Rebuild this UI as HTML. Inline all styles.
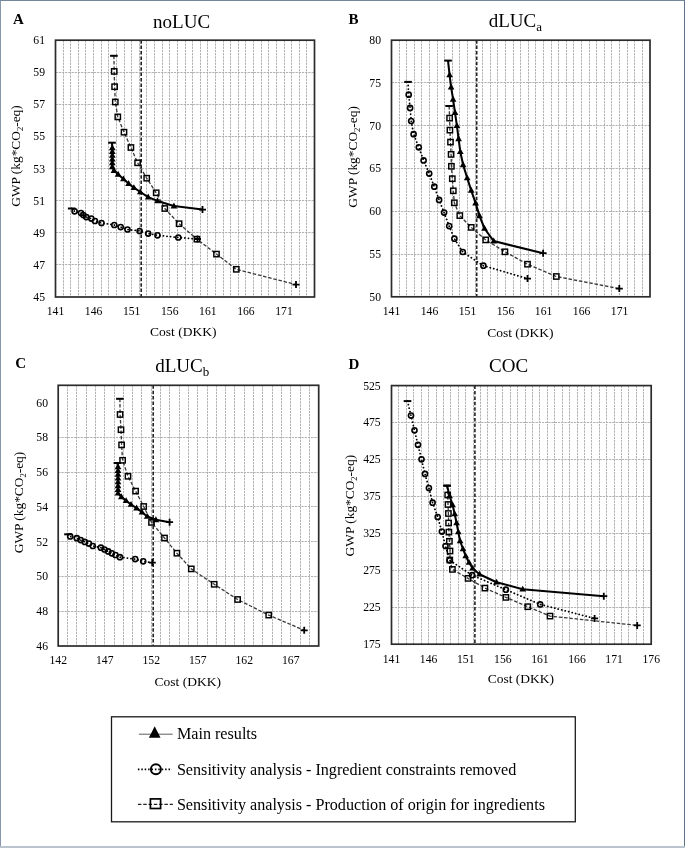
<!DOCTYPE html>
<html><head><meta charset="utf-8"><title>Figure</title>
<style>
html,body{margin:0;padding:0;background:#fff;}
body{width:685px;height:848px;overflow:hidden;}
svg{display:block;will-change:transform;}
text{font-family:"Liberation Serif", serif;fill:#000;}
.t{font-size:11.7px;}
.at{font-size:13.5px;}
.yt{font-size:13.4px;}
.lt{font-size:15px;font-weight:bold;}
.tt{font-size:19px;}
.lg{font-size:16.15px;}
</style></head>
<body>
<svg width="685" height="848" viewBox="0 0 685 848">
<rect x="0.5" y="0.5" width="684" height="847" fill="#fff" stroke="none"/>
<path d="M63.5 40.2V297M70.5 40.2V297M78.5 40.2V297M85.5 40.2V297M93.5 40.2V297M101.5 40.2V297M108.5 40.2V297M116.5 40.2V297M124.5 40.2V297M131.5 40.2V297M139.5 40.2V297M146.5 40.2V297M154.5 40.2V297M162.5 40.2V297M169.5 40.2V297M177.5 40.2V297M185.5 40.2V297M192.5 40.2V297M200.5 40.2V297M207.5 40.2V297M215.5 40.2V297M223.5 40.2V297M230.5 40.2V297M238.5 40.2V297M245.5 40.2V297M253.5 40.2V297M261.5 40.2V297M268.5 40.2V297M276.5 40.2V297M284.5 40.2V297M291.5 40.2V297M299.5 40.2V297M306.5 40.2V297M55.5 264.5H314.5M55.5 232.5H314.5M55.5 200.5H314.5M55.5 168.5H314.5M55.5 136.5H314.5M55.5 104.5H314.5M55.5 72.5H314.5" stroke="#b2b2b2" stroke-width="1" stroke-dasharray="2.3 0.9" fill="none"/>
<path d="M141.2 40.2V297" stroke="#222" stroke-width="1.6" stroke-dasharray="3.5 1.9" fill="none"/>
<polyline points="113.9,55.8 114.2,71.4 114.6,86.7 115.3,102 117.8,116.9 124,132.2 130.9,147.5 137.6,162.8 146.7,178.2 156.2,192.8 164.8,208.5 179.1,223.7 196.9,239.2 216.5,254.1 236.3,269.3 296,284.6" stroke="#383838" stroke-width="1.3" stroke-dasharray="3.5 1.8" fill="none"/>
<polyline points="71.7,208.5 74.6,211.3 81,213.1 83.4,215.1 86.3,217.1 91.3,218.6 95,221 101.5,223 114.3,225 120.7,227.1 127.5,229.5 139.6,231 148.2,233.6 157.5,235.3 178.3,237.5 197.5,239" stroke="#000" stroke-width="1.8" stroke-dasharray="0.1 3.5" stroke-linecap="round" fill="none"/>
<polyline points="112,142.7 112.3,147.8 112.3,151.6 112.3,155.4 112.3,159.2 112.3,163 112.3,166.8 114,170.6 118.1,174.3 123.4,179 128.6,183.6 133.9,187.7 140.3,192 148.2,197.1 157.5,200.9 173.9,206.1 202.5,209.6" stroke="#000" stroke-width="2.05" stroke-linejoin="round" fill="none"/>
<rect x="110.1" y="54.8" width="7.6" height="2" fill="#000"/>
<rect x="111.55" y="68.75" width="5.3" height="5.3" fill="none" stroke="#000" stroke-width="1.45"/>
<rect x="111.95" y="84.05" width="5.3" height="5.3" fill="none" stroke="#000" stroke-width="1.45"/>
<rect x="112.65" y="99.35" width="5.3" height="5.3" fill="none" stroke="#000" stroke-width="1.45"/>
<rect x="115.15" y="114.25" width="5.3" height="5.3" fill="none" stroke="#000" stroke-width="1.45"/>
<rect x="121.35" y="129.55" width="5.3" height="5.3" fill="none" stroke="#000" stroke-width="1.45"/>
<rect x="128.25" y="144.85" width="5.3" height="5.3" fill="none" stroke="#000" stroke-width="1.45"/>
<rect x="134.95" y="160.15" width="5.3" height="5.3" fill="none" stroke="#000" stroke-width="1.45"/>
<rect x="144.05" y="175.55" width="5.3" height="5.3" fill="none" stroke="#000" stroke-width="1.45"/>
<rect x="153.55" y="190.15" width="5.3" height="5.3" fill="none" stroke="#000" stroke-width="1.45"/>
<rect x="162.15" y="205.85" width="5.3" height="5.3" fill="none" stroke="#000" stroke-width="1.45"/>
<rect x="176.45" y="221.05" width="5.3" height="5.3" fill="none" stroke="#000" stroke-width="1.45"/>
<rect x="194.25" y="236.55" width="5.3" height="5.3" fill="none" stroke="#000" stroke-width="1.45"/>
<rect x="213.85" y="251.45" width="5.3" height="5.3" fill="none" stroke="#000" stroke-width="1.45"/>
<rect x="233.65" y="266.65" width="5.3" height="5.3" fill="none" stroke="#000" stroke-width="1.45"/>
<path d="M292.5 284.6H299.5M296 281.1V288.1" stroke="#000" stroke-width="1.8" fill="none"/>
<rect x="67.9" y="207.5" width="7.6" height="2" fill="#000"/>
<circle cx="74.6" cy="211.3" r="2.55" fill="none" stroke="#000" stroke-width="1.6"/>
<circle cx="81" cy="213.1" r="2.55" fill="none" stroke="#000" stroke-width="1.6"/>
<circle cx="83.4" cy="215.1" r="2.55" fill="none" stroke="#000" stroke-width="1.6"/>
<circle cx="86.3" cy="217.1" r="2.55" fill="none" stroke="#000" stroke-width="1.6"/>
<circle cx="91.3" cy="218.6" r="2.55" fill="none" stroke="#000" stroke-width="1.6"/>
<circle cx="95" cy="221" r="2.55" fill="none" stroke="#000" stroke-width="1.6"/>
<circle cx="101.5" cy="223" r="2.55" fill="none" stroke="#000" stroke-width="1.6"/>
<circle cx="114.3" cy="225" r="2.55" fill="none" stroke="#000" stroke-width="1.6"/>
<circle cx="120.7" cy="227.1" r="2.55" fill="none" stroke="#000" stroke-width="1.6"/>
<circle cx="127.5" cy="229.5" r="2.55" fill="none" stroke="#000" stroke-width="1.6"/>
<circle cx="139.6" cy="231" r="2.55" fill="none" stroke="#000" stroke-width="1.6"/>
<circle cx="148.2" cy="233.6" r="2.55" fill="none" stroke="#000" stroke-width="1.6"/>
<circle cx="157.5" cy="235.3" r="2.55" fill="none" stroke="#000" stroke-width="1.6"/>
<circle cx="178.3" cy="237.5" r="2.55" fill="none" stroke="#000" stroke-width="1.6"/>
<path d="M194 239H201M197.5 235.5V242.5" stroke="#000" stroke-width="1.8" fill="none"/>
<rect x="108.2" y="141.7" width="7.6" height="2" fill="#000"/>
<path d="M112.3 144.26L115.65 150.16L108.95 150.16Z" fill="#000"/>
<path d="M112.3 148.06L115.65 153.96L108.95 153.96Z" fill="#000"/>
<path d="M112.3 151.86L115.65 157.76L108.95 157.76Z" fill="#000"/>
<path d="M112.3 155.66L115.65 161.56L108.95 161.56Z" fill="#000"/>
<path d="M112.3 159.46L115.65 165.36L108.95 165.36Z" fill="#000"/>
<path d="M112.3 163.26L115.65 169.16L108.95 169.16Z" fill="#000"/>
<path d="M114 167.06L117.35 172.96L110.65 172.96Z" fill="#000"/>
<path d="M118.1 170.76L121.45 176.66L114.75 176.66Z" fill="#000"/>
<path d="M123.4 175.46L126.75 181.36L120.05 181.36Z" fill="#000"/>
<path d="M128.6 180.06L131.95 185.96L125.25 185.96Z" fill="#000"/>
<path d="M133.9 184.16L137.25 190.06L130.55 190.06Z" fill="#000"/>
<path d="M140.3 188.46L143.65 194.36L136.95 194.36Z" fill="#000"/>
<path d="M148.2 193.56L151.55 199.46L144.85 199.46Z" fill="#000"/>
<path d="M157.5 197.36L160.85 203.26L154.15 203.26Z" fill="#000"/>
<path d="M173.9 202.56L177.25 208.46L170.55 208.46Z" fill="#000"/>
<path d="M199 209.6H206M202.5 206.1V213.1" stroke="#000" stroke-width="1.8" fill="none"/>
<rect x="55.5" y="40.2" width="259" height="256.8" fill="none" stroke="#2b2b2b" stroke-width="1.7"/>
<text transform="translate(55.5,315) scale(1,1.07)" text-anchor="middle" class="t">141</text>
<text transform="translate(93.59,315) scale(1,1.07)" text-anchor="middle" class="t">146</text>
<text transform="translate(131.68,315) scale(1,1.07)" text-anchor="middle" class="t">151</text>
<text transform="translate(169.76,315) scale(1,1.07)" text-anchor="middle" class="t">156</text>
<text transform="translate(207.85,315) scale(1,1.07)" text-anchor="middle" class="t">161</text>
<text transform="translate(245.94,315) scale(1,1.07)" text-anchor="middle" class="t">166</text>
<text transform="translate(284.03,315) scale(1,1.07)" text-anchor="middle" class="t">171</text>
<text transform="translate(45,300.95) scale(1,1.07)" text-anchor="end" class="t">45</text>
<text transform="translate(45,268.85) scale(1,1.07)" text-anchor="end" class="t">47</text>
<text transform="translate(45,236.75) scale(1,1.07)" text-anchor="end" class="t">49</text>
<text transform="translate(45,204.65) scale(1,1.07)" text-anchor="end" class="t">51</text>
<text transform="translate(45,172.55) scale(1,1.07)" text-anchor="end" class="t">53</text>
<text transform="translate(45,140.45) scale(1,1.07)" text-anchor="end" class="t">55</text>
<text transform="translate(45,108.35) scale(1,1.07)" text-anchor="end" class="t">57</text>
<text transform="translate(45,76.25) scale(1,1.07)" text-anchor="end" class="t">59</text>
<text transform="translate(45,44.15) scale(1,1.07)" text-anchor="end" class="t">61</text>
<text x="150.1" y="336.4" class="at">Cost (DKK)</text>
<text transform="translate(20.4,156) rotate(-90)" text-anchor="middle" class="yt">GWP (kg*CO<tspan font-size="8.5" dy="3">2</tspan><tspan dy="-3">-eq)</tspan></text>
<text x="13" y="23.6" class="lt">A</text>
<text x="153.1" y="27.6" class="tt">noLUC</text>
<path d="M399.5 40.2V296.8M406.5 40.2V296.8M414.5 40.2V296.8M421.5 40.2V296.8M429.5 40.2V296.8M437.5 40.2V296.8M444.5 40.2V296.8M452.5 40.2V296.8M459.5 40.2V296.8M467.5 40.2V296.8M475.5 40.2V296.8M482.5 40.2V296.8M490.5 40.2V296.8M497.5 40.2V296.8M505.5 40.2V296.8M513.5 40.2V296.8M520.5 40.2V296.8M528.5 40.2V296.8M535.5 40.2V296.8M543.5 40.2V296.8M551.5 40.2V296.8M558.5 40.2V296.8M566.5 40.2V296.8M573.5 40.2V296.8M581.5 40.2V296.8M589.5 40.2V296.8M596.5 40.2V296.8M604.5 40.2V296.8M611.5 40.2V296.8M619.5 40.2V296.8M627.5 40.2V296.8M634.5 40.2V296.8M642.5 40.2V296.8M391.5 254.5H650M391.5 211.5H650M391.5 168.5H650M391.5 125.5H650M391.5 82.5H650" stroke="#b2b2b2" stroke-width="1" stroke-dasharray="2.3 0.9" fill="none"/>
<path d="M476.7 40.2V296.8" stroke="#222" stroke-width="1.6" stroke-dasharray="3.5 1.9" fill="none"/>
<polyline points="449.1,106 449.6,118.1 449.9,130.1 450.5,142.1 451.1,154.4 451.4,166.3 452.3,178.7 453.3,190.8 454.3,202.8 459.8,215.6 471.2,227.4 485.7,239.9 504.9,251.8 527.5,264.2 556.3,276.5 619.3,288.6" stroke="#383838" stroke-width="1.3" stroke-dasharray="3.5 1.8" fill="none"/>
<polyline points="408,81.9 408.7,94.7 410.1,107.9 411.2,121 413.6,134.2 418.8,147.3 423.6,160.4 429.2,173.6 434.3,186.7 439.1,199.9 444.1,212.6 449.2,226.1 454.4,238.7 462.8,252 483.4,265.7 527.5,278.6" stroke="#000" stroke-width="1.8" stroke-dasharray="0.1 3.5" stroke-linecap="round" fill="none"/>
<polyline points="448,60.6 449.6,75 451.1,87.2 453.1,99.4 455,112.6 456.9,125.7 458.6,138.8 460.3,151.7 463.1,164.8 467.2,178 471.2,190.4 475.6,203.1 479.5,215.9 484.5,228.5 493.7,241.1 543.1,253.2" stroke="#000" stroke-width="2.05" stroke-linejoin="round" fill="none"/>
<rect x="445.3" y="105" width="7.6" height="2" fill="#000"/>
<rect x="446.95" y="115.45" width="5.3" height="5.3" fill="none" stroke="#000" stroke-width="1.45"/>
<rect x="447.25" y="127.45" width="5.3" height="5.3" fill="none" stroke="#000" stroke-width="1.45"/>
<rect x="447.85" y="139.45" width="5.3" height="5.3" fill="none" stroke="#000" stroke-width="1.45"/>
<rect x="448.45" y="151.75" width="5.3" height="5.3" fill="none" stroke="#000" stroke-width="1.45"/>
<rect x="448.75" y="163.65" width="5.3" height="5.3" fill="none" stroke="#000" stroke-width="1.45"/>
<rect x="449.65" y="176.05" width="5.3" height="5.3" fill="none" stroke="#000" stroke-width="1.45"/>
<rect x="450.65" y="188.15" width="5.3" height="5.3" fill="none" stroke="#000" stroke-width="1.45"/>
<rect x="451.65" y="200.15" width="5.3" height="5.3" fill="none" stroke="#000" stroke-width="1.45"/>
<rect x="457.15" y="212.95" width="5.3" height="5.3" fill="none" stroke="#000" stroke-width="1.45"/>
<rect x="468.55" y="224.75" width="5.3" height="5.3" fill="none" stroke="#000" stroke-width="1.45"/>
<rect x="483.05" y="237.25" width="5.3" height="5.3" fill="none" stroke="#000" stroke-width="1.45"/>
<rect x="502.25" y="249.15" width="5.3" height="5.3" fill="none" stroke="#000" stroke-width="1.45"/>
<rect x="524.85" y="261.55" width="5.3" height="5.3" fill="none" stroke="#000" stroke-width="1.45"/>
<rect x="553.65" y="273.85" width="5.3" height="5.3" fill="none" stroke="#000" stroke-width="1.45"/>
<path d="M615.8 288.6H622.8M619.3 285.1V292.1" stroke="#000" stroke-width="1.8" fill="none"/>
<rect x="404.2" y="80.9" width="7.6" height="2" fill="#000"/>
<circle cx="408.7" cy="94.7" r="2.55" fill="none" stroke="#000" stroke-width="1.6"/>
<circle cx="410.1" cy="107.9" r="2.55" fill="none" stroke="#000" stroke-width="1.6"/>
<circle cx="411.2" cy="121" r="2.55" fill="none" stroke="#000" stroke-width="1.6"/>
<circle cx="413.6" cy="134.2" r="2.55" fill="none" stroke="#000" stroke-width="1.6"/>
<circle cx="418.8" cy="147.3" r="2.55" fill="none" stroke="#000" stroke-width="1.6"/>
<circle cx="423.6" cy="160.4" r="2.55" fill="none" stroke="#000" stroke-width="1.6"/>
<circle cx="429.2" cy="173.6" r="2.55" fill="none" stroke="#000" stroke-width="1.6"/>
<circle cx="434.3" cy="186.7" r="2.55" fill="none" stroke="#000" stroke-width="1.6"/>
<circle cx="439.1" cy="199.9" r="2.55" fill="none" stroke="#000" stroke-width="1.6"/>
<circle cx="444.1" cy="212.6" r="2.55" fill="none" stroke="#000" stroke-width="1.6"/>
<circle cx="449.2" cy="226.1" r="2.55" fill="none" stroke="#000" stroke-width="1.6"/>
<circle cx="454.4" cy="238.7" r="2.55" fill="none" stroke="#000" stroke-width="1.6"/>
<circle cx="462.8" cy="252" r="2.55" fill="none" stroke="#000" stroke-width="1.6"/>
<circle cx="483.4" cy="265.7" r="2.55" fill="none" stroke="#000" stroke-width="1.6"/>
<path d="M524 278.6H531M527.5 275.1V282.1" stroke="#000" stroke-width="1.8" fill="none"/>
<rect x="444.2" y="59.6" width="7.6" height="2" fill="#000"/>
<path d="M449.6 71.46L452.95 77.36L446.25 77.36Z" fill="#000"/>
<path d="M451.1 83.66L454.45 89.56L447.75 89.56Z" fill="#000"/>
<path d="M453.1 95.86L456.45 101.76L449.75 101.76Z" fill="#000"/>
<path d="M455 109.06L458.35 114.96L451.65 114.96Z" fill="#000"/>
<path d="M456.9 122.16L460.25 128.06L453.55 128.06Z" fill="#000"/>
<path d="M458.6 135.26L461.95 141.16L455.25 141.16Z" fill="#000"/>
<path d="M460.3 148.16L463.65 154.06L456.95 154.06Z" fill="#000"/>
<path d="M463.1 161.26L466.45 167.16L459.75 167.16Z" fill="#000"/>
<path d="M467.2 174.46L470.55 180.36L463.85 180.36Z" fill="#000"/>
<path d="M471.2 186.86L474.55 192.76L467.85 192.76Z" fill="#000"/>
<path d="M475.6 199.56L478.95 205.46L472.25 205.46Z" fill="#000"/>
<path d="M479.5 212.36L482.85 218.26L476.15 218.26Z" fill="#000"/>
<path d="M484.5 224.96L487.85 230.86L481.15 230.86Z" fill="#000"/>
<path d="M493.7 237.56L497.05 243.46L490.35 243.46Z" fill="#000"/>
<path d="M539.6 253.2H546.6M543.1 249.7V256.7" stroke="#000" stroke-width="1.8" fill="none"/>
<rect x="391.5" y="40.2" width="258.5" height="256.6" fill="none" stroke="#2b2b2b" stroke-width="1.7"/>
<text transform="translate(391.5,314.8) scale(1,1.07)" text-anchor="middle" class="t">141</text>
<text transform="translate(429.51,314.8) scale(1,1.07)" text-anchor="middle" class="t">146</text>
<text transform="translate(467.53,314.8) scale(1,1.07)" text-anchor="middle" class="t">151</text>
<text transform="translate(505.54,314.8) scale(1,1.07)" text-anchor="middle" class="t">156</text>
<text transform="translate(543.56,314.8) scale(1,1.07)" text-anchor="middle" class="t">161</text>
<text transform="translate(581.57,314.8) scale(1,1.07)" text-anchor="middle" class="t">166</text>
<text transform="translate(619.59,314.8) scale(1,1.07)" text-anchor="middle" class="t">171</text>
<text transform="translate(381,300.75) scale(1,1.07)" text-anchor="end" class="t">50</text>
<text transform="translate(381,257.98) scale(1,1.07)" text-anchor="end" class="t">55</text>
<text transform="translate(381,215.22) scale(1,1.07)" text-anchor="end" class="t">60</text>
<text transform="translate(381,172.45) scale(1,1.07)" text-anchor="end" class="t">65</text>
<text transform="translate(381,129.68) scale(1,1.07)" text-anchor="end" class="t">70</text>
<text transform="translate(381,86.92) scale(1,1.07)" text-anchor="end" class="t">75</text>
<text transform="translate(381,44.15) scale(1,1.07)" text-anchor="end" class="t">80</text>
<text x="487.2" y="336.6" class="at">Cost (DKK)</text>
<text transform="translate(356.6,156.9) rotate(-90)" text-anchor="middle" class="yt">GWP (kg*CO<tspan font-size="8.5" dy="3">2</tspan><tspan dy="-3">-eq)</tspan></text>
<text x="348.4" y="23.8" class="lt">B</text>
<text x="488.7" y="26.7" class="tt">dLUC<tspan font-size="13" dy="4">a</tspan></text>
<path d="M67.5 385.3V646M76.5 385.3V646M86.5 385.3V646M95.5 385.3V646M104.5 385.3V646M114.5 385.3V646M123.5 385.3V646M132.5 385.3V646M141.5 385.3V646M151.5 385.3V646M160.5 385.3V646M169.5 385.3V646M179.5 385.3V646M188.5 385.3V646M197.5 385.3V646M207.5 385.3V646M216.5 385.3V646M225.5 385.3V646M234.5 385.3V646M244.5 385.3V646M253.5 385.3V646M262.5 385.3V646M272.5 385.3V646M281.5 385.3V646M290.5 385.3V646M300.5 385.3V646M309.5 385.3V646M58.2 611.5H318.7M58.2 576.5H318.7M58.2 541.5H318.7M58.2 506.5H318.7M58.2 472.5H318.7M58.2 437.5H318.7" stroke="#b2b2b2" stroke-width="1" stroke-dasharray="2.3 0.9" fill="none"/>
<path d="M153.2 385.3V646" stroke="#222" stroke-width="1.6" stroke-dasharray="3.5 1.9" fill="none"/>
<polyline points="119.9,398.8 120.1,414.5 121,429.7 121.6,444.9 122.6,460.3 128,476.3 135.6,491.1 143.7,506.5 151.5,522.4 164.5,538 176.9,553.2 191.3,568.9 214.2,584.3 237.6,599.5 268.7,615.1 304.2,630.3" stroke="#383838" stroke-width="1.3" stroke-dasharray="3.5 1.8" fill="none"/>
<polyline points="68,534.3 70.2,536.4 76.8,538.2 80.7,540.1 84.8,541.9 88.9,543.6 92.8,546 100.9,547.7 104.5,549.5 108.2,551.4 111.8,553.3 115.5,555 119.9,557.2 135.2,559.1 143.2,561.3 152.3,562.6" stroke="#000" stroke-width="1.8" stroke-dasharray="0.1 3.5" stroke-linecap="round" fill="none"/>
<polyline points="117.4,463 118,466.8 118,470.6 118,474.4 118,478.2 118,482 118,485.8 118,489.6 118,493.2 121.4,496.9 126.1,500.7 131,504.5 136.6,508.1 142,512.2 147.2,516.5 155.9,519.8 169.6,522.2" stroke="#000" stroke-width="2.05" stroke-linejoin="round" fill="none"/>
<rect x="116.1" y="397.8" width="7.6" height="2" fill="#000"/>
<rect x="117.45" y="411.85" width="5.3" height="5.3" fill="none" stroke="#000" stroke-width="1.45"/>
<rect x="118.35" y="427.05" width="5.3" height="5.3" fill="none" stroke="#000" stroke-width="1.45"/>
<rect x="118.95" y="442.25" width="5.3" height="5.3" fill="none" stroke="#000" stroke-width="1.45"/>
<rect x="119.95" y="457.65" width="5.3" height="5.3" fill="none" stroke="#000" stroke-width="1.45"/>
<rect x="125.35" y="473.65" width="5.3" height="5.3" fill="none" stroke="#000" stroke-width="1.45"/>
<rect x="132.95" y="488.45" width="5.3" height="5.3" fill="none" stroke="#000" stroke-width="1.45"/>
<rect x="141.05" y="503.85" width="5.3" height="5.3" fill="none" stroke="#000" stroke-width="1.45"/>
<rect x="148.85" y="519.75" width="5.3" height="5.3" fill="none" stroke="#000" stroke-width="1.45"/>
<rect x="161.85" y="535.35" width="5.3" height="5.3" fill="none" stroke="#000" stroke-width="1.45"/>
<rect x="174.25" y="550.55" width="5.3" height="5.3" fill="none" stroke="#000" stroke-width="1.45"/>
<rect x="188.65" y="566.25" width="5.3" height="5.3" fill="none" stroke="#000" stroke-width="1.45"/>
<rect x="211.55" y="581.65" width="5.3" height="5.3" fill="none" stroke="#000" stroke-width="1.45"/>
<rect x="234.95" y="596.85" width="5.3" height="5.3" fill="none" stroke="#000" stroke-width="1.45"/>
<rect x="266.05" y="612.45" width="5.3" height="5.3" fill="none" stroke="#000" stroke-width="1.45"/>
<path d="M300.7 630.3H307.7M304.2 626.8V633.8" stroke="#000" stroke-width="1.8" fill="none"/>
<rect x="64.2" y="533.3" width="7.6" height="2" fill="#000"/>
<circle cx="70.2" cy="536.4" r="2.55" fill="none" stroke="#000" stroke-width="1.6"/>
<circle cx="76.8" cy="538.2" r="2.55" fill="none" stroke="#000" stroke-width="1.6"/>
<circle cx="80.7" cy="540.1" r="2.55" fill="none" stroke="#000" stroke-width="1.6"/>
<circle cx="84.8" cy="541.9" r="2.55" fill="none" stroke="#000" stroke-width="1.6"/>
<circle cx="88.9" cy="543.6" r="2.55" fill="none" stroke="#000" stroke-width="1.6"/>
<circle cx="92.8" cy="546" r="2.55" fill="none" stroke="#000" stroke-width="1.6"/>
<circle cx="100.9" cy="547.7" r="2.55" fill="none" stroke="#000" stroke-width="1.6"/>
<circle cx="104.5" cy="549.5" r="2.55" fill="none" stroke="#000" stroke-width="1.6"/>
<circle cx="108.2" cy="551.4" r="2.55" fill="none" stroke="#000" stroke-width="1.6"/>
<circle cx="111.8" cy="553.3" r="2.55" fill="none" stroke="#000" stroke-width="1.6"/>
<circle cx="115.5" cy="555" r="2.55" fill="none" stroke="#000" stroke-width="1.6"/>
<circle cx="119.9" cy="557.2" r="2.55" fill="none" stroke="#000" stroke-width="1.6"/>
<circle cx="135.2" cy="559.1" r="2.55" fill="none" stroke="#000" stroke-width="1.6"/>
<circle cx="143.2" cy="561.3" r="2.55" fill="none" stroke="#000" stroke-width="1.6"/>
<path d="M148.8 562.6H155.8M152.3 559.1V566.1" stroke="#000" stroke-width="1.8" fill="none"/>
<rect x="113.6" y="462" width="7.6" height="2" fill="#000"/>
<path d="M118 463.26L121.35 469.16L114.65 469.16Z" fill="#000"/>
<path d="M118 467.06L121.35 472.96L114.65 472.96Z" fill="#000"/>
<path d="M118 470.86L121.35 476.76L114.65 476.76Z" fill="#000"/>
<path d="M118 474.66L121.35 480.56L114.65 480.56Z" fill="#000"/>
<path d="M118 478.46L121.35 484.36L114.65 484.36Z" fill="#000"/>
<path d="M118 482.26L121.35 488.16L114.65 488.16Z" fill="#000"/>
<path d="M118 486.06L121.35 491.96L114.65 491.96Z" fill="#000"/>
<path d="M118 489.66L121.35 495.56L114.65 495.56Z" fill="#000"/>
<path d="M121.4 493.36L124.75 499.26L118.05 499.26Z" fill="#000"/>
<path d="M126.1 497.16L129.45 503.06L122.75 503.06Z" fill="#000"/>
<path d="M131 500.96L134.35 506.86L127.65 506.86Z" fill="#000"/>
<path d="M136.6 504.56L139.95 510.46L133.25 510.46Z" fill="#000"/>
<path d="M142 508.66L145.35 514.56L138.65 514.56Z" fill="#000"/>
<path d="M147.2 512.96L150.55 518.86L143.85 518.86Z" fill="#000"/>
<path d="M155.9 516.26L159.25 522.16L152.55 522.16Z" fill="#000"/>
<path d="M166.1 522.2H173.1M169.6 518.7V525.7" stroke="#000" stroke-width="1.8" fill="none"/>
<rect x="58.2" y="385.3" width="260.5" height="260.7" fill="none" stroke="#2b2b2b" stroke-width="1.7"/>
<text transform="translate(58.2,663.8) scale(1,1.07)" text-anchor="middle" class="t">142</text>
<text transform="translate(104.72,663.8) scale(1,1.07)" text-anchor="middle" class="t">147</text>
<text transform="translate(151.24,663.8) scale(1,1.07)" text-anchor="middle" class="t">152</text>
<text transform="translate(197.75,663.8) scale(1,1.07)" text-anchor="middle" class="t">157</text>
<text transform="translate(244.27,663.8) scale(1,1.07)" text-anchor="middle" class="t">162</text>
<text transform="translate(290.79,663.8) scale(1,1.07)" text-anchor="middle" class="t">167</text>
<text transform="translate(48,649.95) scale(1,1.07)" text-anchor="end" class="t">46</text>
<text transform="translate(48,615.19) scale(1,1.07)" text-anchor="end" class="t">48</text>
<text transform="translate(48,580.43) scale(1,1.07)" text-anchor="end" class="t">50</text>
<text transform="translate(48,545.67) scale(1,1.07)" text-anchor="end" class="t">52</text>
<text transform="translate(48,510.91) scale(1,1.07)" text-anchor="end" class="t">54</text>
<text transform="translate(48,476.15) scale(1,1.07)" text-anchor="end" class="t">56</text>
<text transform="translate(48,441.39) scale(1,1.07)" text-anchor="end" class="t">58</text>
<text transform="translate(48,406.63) scale(1,1.07)" text-anchor="end" class="t">60</text>
<text x="154.5" y="685.6" class="at">Cost (DKK)</text>
<text transform="translate(22.65,502.5) rotate(-90)" text-anchor="middle" class="yt">GWP (kg*CO<tspan font-size="8.5" dy="3">2</tspan><tspan dy="-3">-eq)</tspan></text>
<text x="15.3" y="368.2" class="lt">C</text>
<text x="155.2" y="371.7" class="tt">dLUC<tspan font-size="13" dy="4">b</tspan></text>
<path d="M398.5 385.6V644.2M406.5 385.6V644.2M413.5 385.6V644.2M421.5 385.6V644.2M428.5 385.6V644.2M436.5 385.6V644.2M443.5 385.6V644.2M450.5 385.6V644.2M458.5 385.6V644.2M465.5 385.6V644.2M473.5 385.6V644.2M480.5 385.6V644.2M487.5 385.6V644.2M495.5 385.6V644.2M502.5 385.6V644.2M510.5 385.6V644.2M517.5 385.6V644.2M525.5 385.6V644.2M532.5 385.6V644.2M539.5 385.6V644.2M547.5 385.6V644.2M554.5 385.6V644.2M562.5 385.6V644.2M569.5 385.6V644.2M577.5 385.6V644.2M584.5 385.6V644.2M591.5 385.6V644.2M599.5 385.6V644.2M606.5 385.6V644.2M614.5 385.6V644.2M621.5 385.6V644.2M628.5 385.6V644.2M636.5 385.6V644.2M643.5 385.6V644.2M391.5 607.5H651.2M391.5 570.5H651.2M391.5 533.5H651.2M391.5 496.5H651.2M391.5 459.5H651.2M391.5 422.5H651.2" stroke="#b2b2b2" stroke-width="1" stroke-dasharray="2.3 0.9" fill="none"/>
<path d="M474.9 385.6V644.2" stroke="#222" stroke-width="1.6" stroke-dasharray="3.5 1.9" fill="none"/>
<polyline points="447.1,485.6 447.7,495 448,504.5 448.4,513.5 448.6,523 448.9,532.1 449.4,541.3 450,551 449.8,560 452.4,569.4 468.1,578.4 484.9,588.1 505.9,597.4 527.8,606.7 550,616.1 637.2,625.4" stroke="#383838" stroke-width="1.3" stroke-dasharray="3.5 1.8" fill="none"/>
<polyline points="407.5,401.1 411,415.6 414.5,430.3 418,444.8 421.5,459.3 425,473.9 428.9,488 432.6,502.7 437.7,517 441.9,531.6 445.5,546 449.6,560.3 472.1,575.2 505.9,589.7 540.2,604.4 594.6,618.4" stroke="#000" stroke-width="1.8" stroke-dasharray="0.1 3.5" stroke-linecap="round" fill="none"/>
<polyline points="447.1,485.7 449.6,496 452.6,505 454.7,514 456.6,523 458.3,532 460.1,541 463,549 465.7,556 469,562.5 472.6,568.2 479.5,574.2 496.5,582.2 522.7,589.2 603.8,596.2" stroke="#000" stroke-width="2.05" stroke-linejoin="round" fill="none"/>
<rect x="443.3" y="484.6" width="7.6" height="2" fill="#000"/>
<rect x="445.05" y="492.35" width="5.3" height="5.3" fill="none" stroke="#000" stroke-width="1.45"/>
<rect x="445.35" y="501.85" width="5.3" height="5.3" fill="none" stroke="#000" stroke-width="1.45"/>
<rect x="445.75" y="510.85" width="5.3" height="5.3" fill="none" stroke="#000" stroke-width="1.45"/>
<rect x="445.95" y="520.35" width="5.3" height="5.3" fill="none" stroke="#000" stroke-width="1.45"/>
<rect x="446.25" y="529.45" width="5.3" height="5.3" fill="none" stroke="#000" stroke-width="1.45"/>
<rect x="446.75" y="538.65" width="5.3" height="5.3" fill="none" stroke="#000" stroke-width="1.45"/>
<rect x="447.35" y="548.35" width="5.3" height="5.3" fill="none" stroke="#000" stroke-width="1.45"/>
<rect x="447.15" y="557.35" width="5.3" height="5.3" fill="none" stroke="#000" stroke-width="1.45"/>
<rect x="449.75" y="566.75" width="5.3" height="5.3" fill="none" stroke="#000" stroke-width="1.45"/>
<rect x="465.45" y="575.75" width="5.3" height="5.3" fill="none" stroke="#000" stroke-width="1.45"/>
<rect x="482.25" y="585.45" width="5.3" height="5.3" fill="none" stroke="#000" stroke-width="1.45"/>
<rect x="503.25" y="594.75" width="5.3" height="5.3" fill="none" stroke="#000" stroke-width="1.45"/>
<rect x="525.15" y="604.05" width="5.3" height="5.3" fill="none" stroke="#000" stroke-width="1.45"/>
<rect x="547.35" y="613.45" width="5.3" height="5.3" fill="none" stroke="#000" stroke-width="1.45"/>
<path d="M633.7 625.4H640.7M637.2 621.9V628.9" stroke="#000" stroke-width="1.8" fill="none"/>
<rect x="403.7" y="400.1" width="7.6" height="2" fill="#000"/>
<circle cx="411" cy="415.6" r="2.55" fill="none" stroke="#000" stroke-width="1.6"/>
<circle cx="414.5" cy="430.3" r="2.55" fill="none" stroke="#000" stroke-width="1.6"/>
<circle cx="418" cy="444.8" r="2.55" fill="none" stroke="#000" stroke-width="1.6"/>
<circle cx="421.5" cy="459.3" r="2.55" fill="none" stroke="#000" stroke-width="1.6"/>
<circle cx="425" cy="473.9" r="2.55" fill="none" stroke="#000" stroke-width="1.6"/>
<circle cx="428.9" cy="488" r="2.55" fill="none" stroke="#000" stroke-width="1.6"/>
<circle cx="432.6" cy="502.7" r="2.55" fill="none" stroke="#000" stroke-width="1.6"/>
<circle cx="437.7" cy="517" r="2.55" fill="none" stroke="#000" stroke-width="1.6"/>
<circle cx="441.9" cy="531.6" r="2.55" fill="none" stroke="#000" stroke-width="1.6"/>
<circle cx="445.5" cy="546" r="2.55" fill="none" stroke="#000" stroke-width="1.6"/>
<circle cx="449.6" cy="560.3" r="2.55" fill="none" stroke="#000" stroke-width="1.6"/>
<circle cx="472.1" cy="575.2" r="2.55" fill="none" stroke="#000" stroke-width="1.6"/>
<circle cx="505.9" cy="589.7" r="2.55" fill="none" stroke="#000" stroke-width="1.6"/>
<circle cx="540.2" cy="604.4" r="2.55" fill="none" stroke="#000" stroke-width="1.6"/>
<path d="M591.1 618.4H598.1M594.6 614.9V621.9" stroke="#000" stroke-width="1.8" fill="none"/>
<rect x="443.3" y="484.7" width="7.6" height="2" fill="#000"/>
<path d="M449.6 492.46L452.95 498.36L446.25 498.36Z" fill="#000"/>
<path d="M452.6 501.46L455.95 507.36L449.25 507.36Z" fill="#000"/>
<path d="M454.7 510.46L458.05 516.36L451.35 516.36Z" fill="#000"/>
<path d="M456.6 519.46L459.95 525.36L453.25 525.36Z" fill="#000"/>
<path d="M458.3 528.46L461.65 534.36L454.95 534.36Z" fill="#000"/>
<path d="M460.1 537.46L463.45 543.36L456.75 543.36Z" fill="#000"/>
<path d="M463 545.46L466.35 551.36L459.65 551.36Z" fill="#000"/>
<path d="M465.7 552.46L469.05 558.36L462.35 558.36Z" fill="#000"/>
<path d="M469 558.96L472.35 564.86L465.65 564.86Z" fill="#000"/>
<path d="M472.6 564.66L475.95 570.56L469.25 570.56Z" fill="#000"/>
<path d="M479.5 570.66L482.85 576.56L476.15 576.56Z" fill="#000"/>
<path d="M496.5 578.66L499.85 584.56L493.15 584.56Z" fill="#000"/>
<path d="M522.7 585.66L526.05 591.56L519.35 591.56Z" fill="#000"/>
<path d="M600.3 596.2H607.3M603.8 592.7V599.7" stroke="#000" stroke-width="1.8" fill="none"/>
<rect x="391.5" y="385.6" width="259.7" height="258.6" fill="none" stroke="#2b2b2b" stroke-width="1.7"/>
<text transform="translate(391.5,663) scale(1,1.07)" text-anchor="middle" class="t">141</text>
<text transform="translate(428.6,663) scale(1,1.07)" text-anchor="middle" class="t">146</text>
<text transform="translate(465.7,663) scale(1,1.07)" text-anchor="middle" class="t">151</text>
<text transform="translate(502.8,663) scale(1,1.07)" text-anchor="middle" class="t">156</text>
<text transform="translate(539.9,663) scale(1,1.07)" text-anchor="middle" class="t">161</text>
<text transform="translate(577,663) scale(1,1.07)" text-anchor="middle" class="t">166</text>
<text transform="translate(614.1,663) scale(1,1.07)" text-anchor="middle" class="t">171</text>
<text transform="translate(651.2,663) scale(1,1.07)" text-anchor="middle" class="t">176</text>
<text transform="translate(380.7,648.15) scale(1,1.07)" text-anchor="end" class="t">175</text>
<text transform="translate(380.7,611.21) scale(1,1.07)" text-anchor="end" class="t">225</text>
<text transform="translate(380.7,574.26) scale(1,1.07)" text-anchor="end" class="t">275</text>
<text transform="translate(380.7,537.32) scale(1,1.07)" text-anchor="end" class="t">325</text>
<text transform="translate(380.7,500.38) scale(1,1.07)" text-anchor="end" class="t">375</text>
<text transform="translate(380.7,463.44) scale(1,1.07)" text-anchor="end" class="t">425</text>
<text transform="translate(380.7,426.49) scale(1,1.07)" text-anchor="end" class="t">475</text>
<text transform="translate(380.7,389.55) scale(1,1.07)" text-anchor="end" class="t">525</text>
<text x="487.7" y="683.4" class="at">Cost (DKK)</text>
<text transform="translate(354.25,505.6) rotate(-90)" text-anchor="middle" class="yt">GWP (kg*CO<tspan font-size="8.5" dy="3">2</tspan><tspan dy="-3">-eq)</tspan></text>
<text x="348.6" y="369" class="lt">D</text>
<text x="489" y="372.4" class="tt">COC</text>
<rect x="111.5" y="716.8" width="463.8" height="105" fill="none" stroke="#1a1a1a" stroke-width="1.3"/>
<path d="M138.9 734.2H172.7" stroke="#333" stroke-width="0.8"/>
<path d="M154.7 726.3L160.5 737.7L148.9 737.7Z" fill="#000"/>
<text x="176.9" y="739.3" class="lg">Main results</text>
<path d="M137.9 769.3H172" stroke="#000" stroke-width="1.8" stroke-dasharray="1.5 1.9"/>
<circle cx="155.9" cy="769.3" r="5" fill="none" stroke="#000" stroke-width="1.9"/>
<text x="176.9" y="774.6" class="lg">Sensitivity analysis - Ingredient constraints removed</text>
<path d="M137.9 804.3H172.9" stroke="#222" stroke-width="1.2" stroke-dasharray="3.5 1.8"/>
<rect x="150.4" y="798.9" width="10.2" height="9.6" fill="none" stroke="#000" stroke-width="1.7"/>
<text x="176.9" y="809.6" class="lg">Sensitivity analysis - Production of origin for ingredients</text>
<path d="M0.5 848V0.5" stroke="#8798aa" stroke-width="1" fill="none"/>
<path d="M0 0.5H685" stroke="#74879c" stroke-width="1" fill="none"/>
<path d="M684.5 0V848" stroke="#5f748b" stroke-width="1" fill="none"/>
<rect x="0" y="846" width="685" height="2" fill="#b9c4cf"/>
</svg>
</body></html>
